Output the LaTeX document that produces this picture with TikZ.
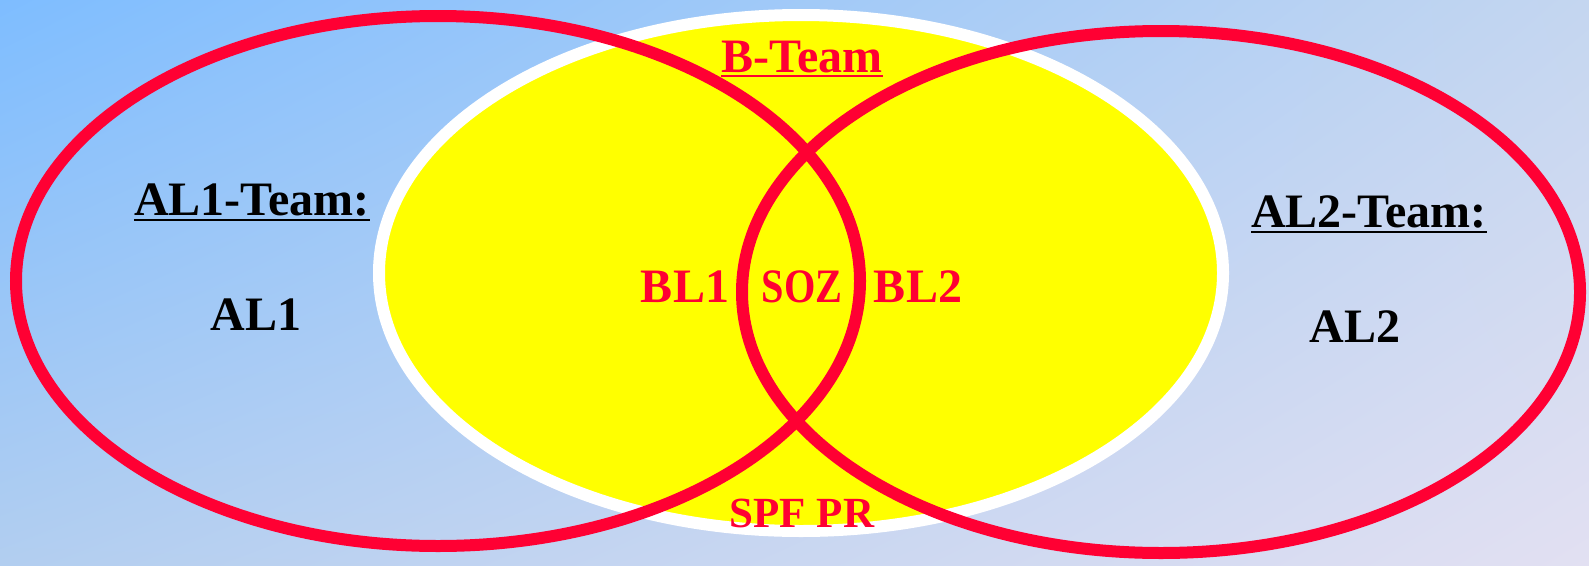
\documentclass[tikz,border=0pt]{standalone}
\usepackage{fontspec}
\usepackage{graphicx}
\usetikzlibrary{shadings}
\setmainfont{Liberation Serif}
\definecolor{vennred}{RGB}{255,0,51}
\definecolor{vennyellow}{RGB}{255,255,0}
\definecolor{bgTL}{RGB}{126,189,255}
\definecolor{bgTR}{RGB}{196,214,240}
\definecolor{bgBL}{RGB}{178,206,240}
\definecolor{bgBR}{RGB}{226,224,242}
\tikzset{
  redring/.style={draw=vennred, line width=12pt},
  bset/.style={draw=white, fill=vennyellow, line width=12pt},
  lbl/.style={inner sep=0pt, anchor=base, font=\bfseries\fontsize{48}{56}\selectfont},
  redlbl/.style={lbl, text=vennred},
  blacklbl/.style={lbl, text=black},
}
\begin{document}
\begin{tikzpicture}[x=1pt,y=-1pt]
  \useasboundingbox (0,0) rectangle (1589,565);
  % background
  \shade[upper left=bgTL, upper right=bgTR, lower left=bgBL, lower right=bgBR]
    (0,0) rectangle (1589,565);
  % B set (yellow with white rim)
  \draw[bset] (801,273) ellipse [x radius=422pt, y radius=258pt];
  % AL1 and AL2 sets
  \draw[redring] (438,281) ellipse [x radius=422pt, y radius=265pt];
  \draw[redring] (1161,292) ellipse [x radius=419pt, y radius=261pt];
  % labels
  \node[redlbl] (bteam) at (802,72) {B-Team};
  \draw[vennred, line width=2.5pt] ([yshift=-4pt]bteam.base west) -- ([yshift=-4pt]bteam.base east);
  \node[redlbl] (bl1) at (685,302) {BL1};
  \node[redlbl] (soz) at (802,302) {\scalebox{0.84}[1]{SOZ}};
  \node[redlbl] (bl2) at (918,302) {BL2};
  \node[redlbl, font=\bfseries\fontsize{43}{50}\selectfont] (spf) at (802,527) {SPF PR};
  \node[blacklbl] (al1team) at (252,215) {AL1-Team:};
  \draw[black, line width=2.5pt] ([yshift=-5pt]al1team.base west) -- ([yshift=-5pt]al1team.base east);
  \node[blacklbl] (al1) at (256,330) {AL1};
  \node[blacklbl] (al2team) at (1369,227) {AL2-Team:};
  \draw[black, line width=2.5pt] ([yshift=-5pt]al2team.base west) -- ([yshift=-5pt]al2team.base east);
  \node[blacklbl] (al2) at (1355,342) {AL2};
\end{tikzpicture}
\end{document}
